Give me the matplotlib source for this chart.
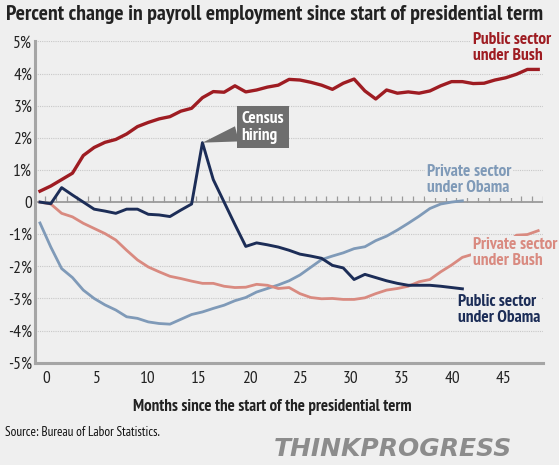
import numpy as np
import matplotlib
matplotlib.use("Agg")
import matplotlib.pyplot as plt

# ---------------- data ----------------
months_bush = np.arange(0, 47)
months_obama = np.arange(0, 40)

public_bush = [0.34, 0.50, 0.70, 0.90, 1.45, 1.70, 1.86, 1.95, 2.12, 2.35,
               2.48, 2.59, 2.66, 2.83, 2.92, 3.25, 3.44, 3.42, 3.62, 3.43,
               3.49, 3.58, 3.64, 3.82, 3.80, 3.73, 3.64, 3.51, 3.70, 3.83,
               3.46, 3.21, 3.49, 3.39, 3.43, 3.39, 3.46, 3.62, 3.75, 3.75,
               3.69, 3.70, 3.80, 3.87, 3.98, 4.13, 4.13]

private_bush = [0.00, -0.06, -0.35, -0.46, -0.66, -0.82, -0.98, -1.18, -1.50, -1.80,
                -2.02, -2.17, -2.31, -2.38, -2.46, -2.53, -2.53, -2.62, -2.66, -2.65,
                -2.56, -2.59, -2.69, -2.66, -2.85, -2.97, -3.01, -3.00, -3.03, -3.03,
                -2.98, -2.85, -2.74, -2.69, -2.62, -2.48, -2.41, -2.17, -1.96, -1.72,
                -1.62, -1.58, -1.44, -1.29, -1.03, -1.01, -0.89]

public_obama = [0.00, -0.05, 0.45, 0.22, 0.00, -0.22, -0.28, -0.35, -0.22, -0.22,
                -0.38, -0.40, -0.45, -0.25, -0.06, 1.85, 0.70, 0.00, -0.70, -1.38,
                -1.27, -1.33, -1.40, -1.50, -1.62, -1.68, -1.75, -1.97, -2.05, -2.41,
                -2.25, -2.35, -2.45, -2.53, -2.59, -2.59, -2.59, -2.62, -2.66, -2.70]

private_obama = [-0.65, -1.40, -2.07, -2.35, -2.74, -3.00, -3.20, -3.36, -3.57, -3.62,
                 -3.73, -3.78, -3.80, -3.65, -3.50, -3.42, -3.31, -3.21, -3.07, -2.97,
                 -2.80, -2.69, -2.58, -2.45, -2.27, -2.03, -1.79, -1.68, -1.58, -1.45,
                 -1.39, -1.20, -1.06, -0.87, -0.66, -0.44, -0.20, -0.06, 0.00, 0.04]

x_tick_labels = ["0", "5", "10", "15", "20", "25", "30", "35", "40", "45"]
y_ticks = [5, 4, 3, 2, 1, 0, -1, -2, -3, -4, -5]
y_tick_labels = ["5%", "4%", "3%", "2%", "1%", "0", "-1%", "-2%", "-3%", "-4%", "-5%"]

title = "Percent change in payroll employment since start of presidential term"
xlabel = "Months since the start of the presidential term"
source = "Source: Bureau of Labor Statistics."

# ---------------- style ----------------
BG = "#efefef"
C_PUB_BUSH = "#9e1c22"
C_PRI_BUSH = "#d98a80"
C_PUB_OBAMA = "#1c2d57"
C_PRI_OBAMA = "#7f9ab8"
FONT = ["PT Sans Narrow", "DejaVu Sans"]
plt.rcParams["font.family"] = FONT

fig = plt.figure(figsize=(5.59, 4.65), dpi=100, facecolor=BG)
ax = fig.add_axes([0.0626, 0.22, 0.9093, 0.6908], facecolor=BG)

ax.set_xlim(-0.46, 46.47)
ax.set_ylim(-5, 5)

# gridlines
for yv in y_ticks[:-1]:
    if yv == 0:
        continue
    ax.axhline(yv, color="#c8c8c8", lw=0.8, ls=(0, (1, 1)), zorder=1)
ax.axhline(0, color="#9a9a9a", lw=1.3, zorder=2)
for t in np.arange(0, 47) + 0.45:
    ax.plot([t, t], [0, 0.2], color="#9a9a9a", lw=0.9, zorder=2, solid_capstyle="butt")

ax.plot(months_obama, private_obama, color=C_PRI_OBAMA, lw=2.0, zorder=3)
ax.plot(months_bush, private_bush, color=C_PRI_BUSH, lw=2.0, zorder=3)
ax.plot(months_bush, public_bush, color=C_PUB_BUSH, lw=2.4, zorder=4)
ax.plot(months_obama, public_obama, color=C_PUB_OBAMA, lw=2.1, zorder=5)

for s in ["top", "right"]:
    ax.spines[s].set_visible(False)
for s in ["left", "bottom"]:
    ax.spines[s].set_color("#a5a5a5")
    ax.spines[s].set_linewidth(2.2)

ax.set_yticks(y_ticks)
ax.set_yticklabels(y_tick_labels, fontsize=12.5, color="#222222")
label_step = 5 * 0.9367
ax.set_xticks(0.6 + np.arange(len(x_tick_labels)) * label_step)
ax.set_xticklabels(x_tick_labels, fontsize=12.5, color="#222222")
ax.tick_params(axis="both", length=0, pad=2)
ax.tick_params(axis="x", pad=6)

ax.set_xlabel(xlabel, fontsize=12.2, fontweight="bold", color="#222222")
ax.xaxis.set_label_coords(0.466, -0.113)

fig.text(0.011, 0.968, title, fontsize=15.7, color="#222222", ha="left", va="center",
         fontweight="bold")
fig.text(0.009, 0.070, source, fontsize=9.5, color="#111111", ha="left", va="center")
fig.text(0.916, 0.035, "THINKPROGRESS", fontsize=18, color="#8c8c8c", ha="right",
         va="center", fontweight="bold", style="italic", family="DejaVu Sans")

# series labels
lab_kw = dict(fontsize=12.5, fontweight="bold", ha="left", va="center",
              linespacing=1.0, zorder=6)
box = dict(boxstyle="square,pad=0.1", fc=BG, ec="none")
ax.text(40.0, 4.81, "Public sector\nunder Bush", color=C_PUB_BUSH, bbox=box, **lab_kw)
ax.text(35.7, 0.68, "Private sector\nunder Obama", color=C_PRI_OBAMA, bbox=box, **lab_kw)
ax.text(40.0, -1.60, "Private sector\nunder Bush", color=C_PRI_BUSH, bbox=box, **lab_kw)
ax.text(38.6, -3.35, "Public sector\nunder Obama", color=C_PUB_OBAMA, bbox=box, **lab_kw)

# census annotation
ax.annotate("Census\nhiring", xy=(15, public_obama[15]), xytext=(18.6, 2.33),
            fontsize=12.5, fontweight="bold", color="white", ha="left", va="center",
            linespacing=1.05, zorder=7,
            bbox=dict(boxstyle="square,pad=0.26", fc="#6e6e6e", ec="none"),
            arrowprops=dict(arrowstyle="wedge,tail_width=0.9,shrink_factor=0.5",
                            fc="#6e6e6e", ec="none", shrinkA=0, shrinkB=0))

fig.savefig("out.png", dpi=100, facecolor=BG)
